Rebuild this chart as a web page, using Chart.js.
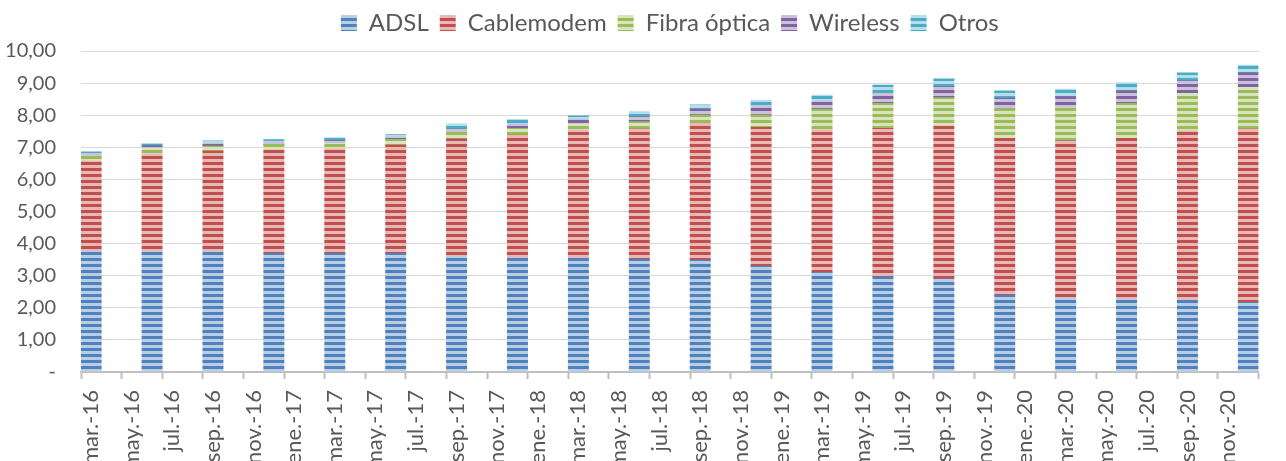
<!DOCTYPE html>
<html><head><meta charset="utf-8">
<script src="https://cdn.jsdelivr.net/npm/chart.js@4.4.0/dist/chart.umd.min.js"></script>
<style>html,body{margin:0;padding:0;background:#fff;} #wrap{width:1286px;height:461px;}</style>
</head><body><div id="wrap"><canvas id="c" width="1286" height="461"></canvas></div>
<script>
// Monthly axis categories (tick labels)
const months = [
 'mar.-16','abr.-16','may.-16','jun.-16','jul.-16','ago.-16','sep.-16','oct.-16','nov.-16','dic.-16',
 'ene.-17','feb.-17','mar.-17','abr.-17','may.-17','jun.-17','jul.-17','ago.-17','sep.-17','oct.-17','nov.-17','dic.-17',
 'ene.-18','feb.-18','mar.-18','abr.-18','may.-18','jun.-18','jul.-18','ago.-18','sep.-18','oct.-18','nov.-18','dic.-18',
 'ene.-19','feb.-19','mar.-19','abr.-19','may.-19','jun.-19','jul.-19','ago.-19','sep.-19','oct.-19','nov.-19','dic.-19',
 'ene.-20','feb.-20','mar.-20','abr.-20','may.-20','jun.-20','jul.-20','ago.-20','sep.-20','oct.-20','nov.-20','dic.-20'
];
// Quarterly observations
const quarters = ['mar.-16','jun.-16','sep.-16','dic.-16','mar.-17','jun.-17','sep.-17','dic.-17',
 'mar.-18','jun.-18','sep.-18','dic.-18','mar.-19','jun.-19','sep.-19','dic.-19',
 'mar.-20','jun.-20','sep.-20','dic.-20'];
const adsl     = [3.77,3.75,3.75,3.70,3.70,3.70,3.61,3.56,3.54,3.52,3.49,3.30,3.10,2.97,2.90,2.40,2.31,2.27,2.24,2.17];
const cable    = [2.80,3.04,3.13,3.22,3.25,3.37,3.65,3.82,4.00,4.05,4.26,4.32,4.44,4.62,4.77,4.88,4.89,5.01,5.27,5.40];
const fibra    = [0.16,0.18,0.16,0.17,0.17,0.18,0.21,0.21,0.19,0.23,0.26,0.39,0.65,0.78,0.88,0.93,1.03,1.09,1.17,1.30];
const wireless = [0.08,0.08,0.08,0.07,0.09,0.08,0.10,0.14,0.15,0.15,0.18,0.29,0.26,0.31,0.34,0.32,0.35,0.39,0.39,0.45];
const otros    = [0.05,0.07,0.08,0.08,0.09,0.07,0.16,0.14,0.10,0.16,0.13,0.17,0.18,0.26,0.24,0.23,0.23,0.26,0.25,0.24];
const seriesNames = ['ADSL','Cablemodem','Fibra óptica','Wireless','Otros'];
const yTicks = [0,1,2,3,4,5,6,7,8,9,10];

function stripes(dark, light){
  const c = document.createElement('canvas');
  c.width = 4; c.height = 6;
  const g = c.getContext('2d');
  g.fillStyle = light; g.fillRect(0,0,4,6);
  g.fillStyle = dark; g.fillRect(0,0,4,3);
  return g.createPattern(c,'repeat');
}
function toMonthly(vals){
  return months.map(m => { const i = quarters.indexOf(m); return i >= 0 ? vals[i] : null; });
}
const palette = [
  ['#4F81BD','#B9CDE5'],
  ['#C0504D','#E8B7B6'],
  ['#9BBB59','#D7E4BD'],
  ['#8064A2','#CCC1DA'],
  ['#4BACC6','#B7DEE8']
];
const values = [adsl, cable, fibra, wireless, otros];
const datasets = seriesNames.map((n, k) => ({
  label: n,
  data: toMonthly(values[k]),
  backgroundColor: stripes(palette[k][0], palette[k][1]),
  borderWidth: 0,
  barPercentage: 1,
  categoryPercentage: 1
}));

const font = 'Lato, "Open Sans", sans-serif';
new Chart(document.getElementById('c'), {
  type: 'bar',
  data: { labels: months, datasets },
  options: {
    responsive: false, animation: false, devicePixelRatio: 1,
    layout: { padding: { top: 0, right: 8, left: 0, bottom: 0 } },
    plugins: {
      legend: { position: 'top', fullSize: false,
        labels: { boxWidth: 16, boxHeight: 16, color: '#595959', font: { family: font, size: 24 }, padding: 11 } },
      title: { display: true, text: ' ', weight: 500, position: 'top',
        font: { size: 1, lineHeight: 1 }, padding: { top: 5, bottom: 0 } },
      tooltip: { enabled: false }
    },
    scales: {
      x: {
        stacked: true, offset: true,
        grid: { offset: true, drawOnChartArea: false, drawTicks: true, tickLength: 7, tickWidth: 2,
          tickColor: c => (c.index === undefined || c.index % 2 === 0) ? '#BFBFBF' : 'rgba(0,0,0,0)' },
        border: { display: true, color: '#BFBFBF', width: 2 },
        ticks: { autoSkip: false, maxRotation: 90, minRotation: 90, color: '#595959', padding: 11,
          font: { family: font, size: 22 },
          callback: (v, i) => i % 2 === 0 ? months[i] : '' },
        afterFit: s => { s.height = 89; }
      },
      y: {
        stacked: true, min: 0, max: 10,
        afterBuildTicks: s => { s.ticks = yTicks.map(v => ({ value: v })); },
        ticks: { color: '#595959', padding: 25, font: { family: font, size: 20 },
          callback: v => v === 0 ? '-' : v.toFixed(2).replace('.', ',') },
        grid: { color: '#D9D9D9', lineWidth: 1, drawTicks: false },
        border: { display: false },
        afterFit: s => { s.width = 81; }
      }
    }
  }
});
</script></body></html>
